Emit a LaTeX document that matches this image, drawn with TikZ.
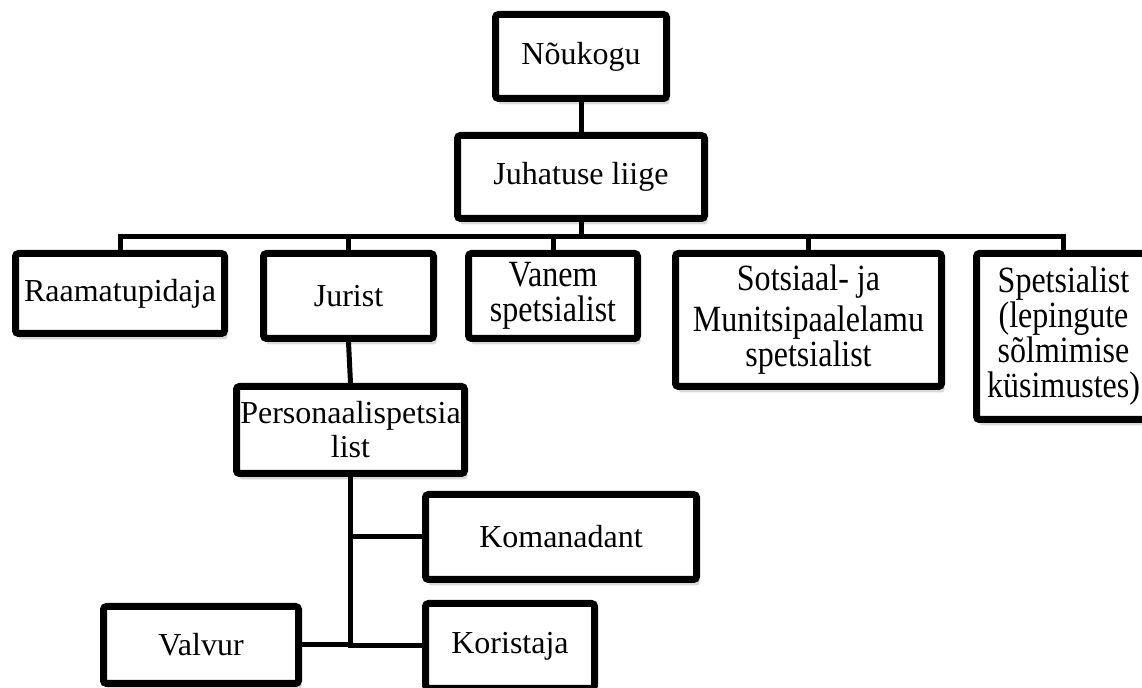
\documentclass[tikz,border=0pt]{standalone}
\usepackage{fontspec}
\setmainfont{Liberation Serif}
\newfontfamily\tallfont[FakeStretch=0.865]{Liberation Serif}
\usetikzlibrary{shadows}

\begin{document}
\begin{tikzpicture}[x=0.5pt, y=-0.5pt, line width=2.5pt,
    post/.style={draw, line width=3.5pt, fill=white, rounded corners=1.5pt, align=center, inner sep=0pt,
        font=\fontsize{16}{17}\selectfont,
        drop shadow={shadow xshift=1.5pt, shadow yshift=-3pt, opacity=0.3}},
    tallpost/.style={post, font=\tallfont\fontsize{18.5}{17.5}\selectfont}]
    \useasboundingbox (0, 0) rectangle (1142, 688);

    % draw top boxes
    \node[post, minimum width=85.5pt, minimum height=42pt] (noukogu) at (581, 56.5) {Nõukogu};
    \node[post, minimum width=123.5pt, minimum height=41.5pt] (juhatus) at (581, 177) {Juhatuse liige};

    % draw first row
    \node[post, minimum width=104.5pt, minimum height=40pt] (raamat) at (120, 293.5) {Raamatupidaja};
    \node[post, minimum width=85pt, minimum height=42.5pt] (jurist) at (348.5, 296) {Jurist};
    \node[tallpost, minimum width=84.5pt, minimum height=42.5pt] (vanem) at (553, 296) {Vanem\\spetsialist};
    \node[tallpost, minimum width=133pt, minimum height=66.5pt] (sotsiaal) at (808.5, 320) {Sotsiaal- ja\\[3pt]Munitsipaalelamu\\spetsialist};
    \node[tallpost, minimum width=87pt, minimum height=83pt] (spets) at (1063.5, 336.5) {Spetsialist\\(lepingute\\sõlmimise\\küsimustes)};

    % draw lower boxes
    \node[post, minimum width=114pt, minimum height=43.5pt] (personal) at (350.5, 430) {Personaalispetsia\\list};
    \node[post, minimum width=135.5pt, minimum height=42.5pt] (komand) at (561, 537) {Komanadant};
    \node[post, minimum width=84.5pt, minimum height=42.5pt] (korist) at (510, 646) {Koristaja};
    \node[post, minimum width=97.5pt, minimum height=38.5pt] (valvur) at (201, 645) {Valvur};

    % draw connectors
    \coordinate (bus) at (583, 237);
    \draw (noukogu.south) -- (juhatus.north);
    \draw (juhatus.south) -- (juhatus.south |- bus);
    \draw (raamat.north) |- (bus);
    \draw (jurist.north) |- (bus);
    \draw (vanem.north) |- (bus);
    \draw (sotsiaal.north) |- (bus);
    \draw (spets.north) |- (bus);
    \draw (jurist.south) -- (personal.north);
    \draw (komand.west) -| (personal.south);
    \draw (korist.west) -| (personal.south);
    \draw (valvur.east) -| (personal.south);

\end{tikzpicture}
\end{document}
